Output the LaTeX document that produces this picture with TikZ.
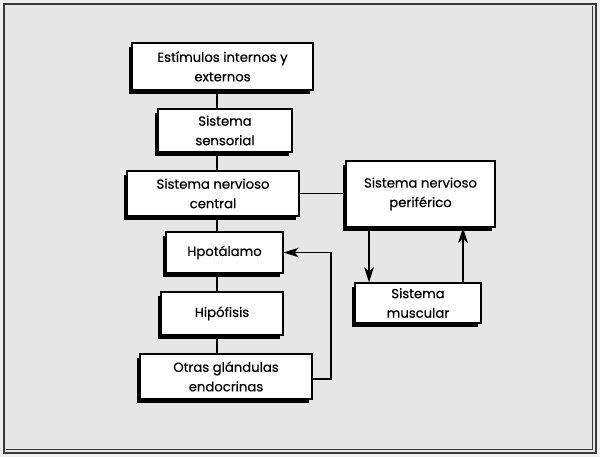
\documentclass[tikz,border=0pt]{standalone}
\usepackage{fontspec}
\setmainfont{Poppins}
\usetikzlibrary{arrows.meta,shadows}
\definecolor{bggray}{HTML}{E6E6E6}
\definecolor{outgray}{HTML}{EFEFEF}
\definecolor{framegray}{HTML}{3A3A3A}
\begin{document}
\begin{tikzpicture}[x=1pt,y=-1pt,
  box/.style={draw=black, line width=1.3pt, fill=white, rectangle, align=center,
    inner sep=0pt, font=\fontsize{13.2}{19.5}\selectfont\addfontfeature{FakeBold=0.5},
    general shadow={shadow xshift=-3.5pt, shadow yshift=-4pt, fill=black}},
  link/.style={line width=1.8pt, draw=black},
  arr/.style={line width=1.8pt, draw=black, -{Stealth[length=15pt,width=9.5pt,inset=4pt]}}]
\useasboundingbox (0,0) rectangle (600,457);
\fill[outgray] (0,0) rectangle (600,457);
\fill[bggray] (4,4) rectangle (596,453);
\draw[framegray, line width=0.8pt] (592.5,6) -- (592.5,449.5) -- (6,449.5);
\draw[framegray, line width=2pt] (4,4) rectangle (596,453);

\coordinate (spine) at (217,0);

\node[box, minimum width=181pt, minimum height=47pt] (est) at (222.5,66.5) {Estímulos internos y\\externos};
\node[box, minimum width=134pt, minimum height=43pt] (sen) at (225,130.5) {Sistema\\sensorial};
\node[box, minimum width=172pt, minimum height=45pt] (snc) at (213,193.5) {Sistema nervioso\\central};
\node[box, minimum width=149pt, minimum height=66pt] (snp) at (420.5,194) {Sistema nervioso\\periférico};
\node[box, minimum width=126pt, minimum height=40pt] (mus) at (418,303) {Sistema\\muscular};
\node[box, minimum width=117pt, minimum height=41pt] (hpo) at (224.5,252.5) {Hpotálamo};
\node[box, minimum width=122pt, minimum height=43pt] (hip) at (222,313.5) {Hipófisis};
\node[box, minimum width=172pt, minimum height=45pt] (otr) at (226,376.5) {Otras glándulas\\endocrinas};

\draw[link] (est.south -| spine) -- (sen.north -| spine);
\draw[link] (sen.south -| spine) -- (snc.north -| spine);
\draw[link] (snc.south -| spine) -- (hpo.north -| spine);
\draw[link] (hpo.south -| spine) -- (hip.north -| spine);
\draw[link] (hip.south -| spine) -- (otr.north -| spine);
\draw[line width=1pt] (snc.east) -- (snc.east -| snp.west);

\coordinate (dnx) at (369,0);
\coordinate (upx) at (463,0);
\draw[arr] (snp.south -| dnx) -- (mus.north -| dnx);
\draw[arr] (mus.north -| upx) -- (snp.south -| upx);

\coordinate (fbx) at (331,0);
\draw[arr] ([yshift=-2.5pt]otr.east) -- ([yshift=-2.5pt]otr.east -| fbx) |- (hpo.east);
\end{tikzpicture}
\end{document}
